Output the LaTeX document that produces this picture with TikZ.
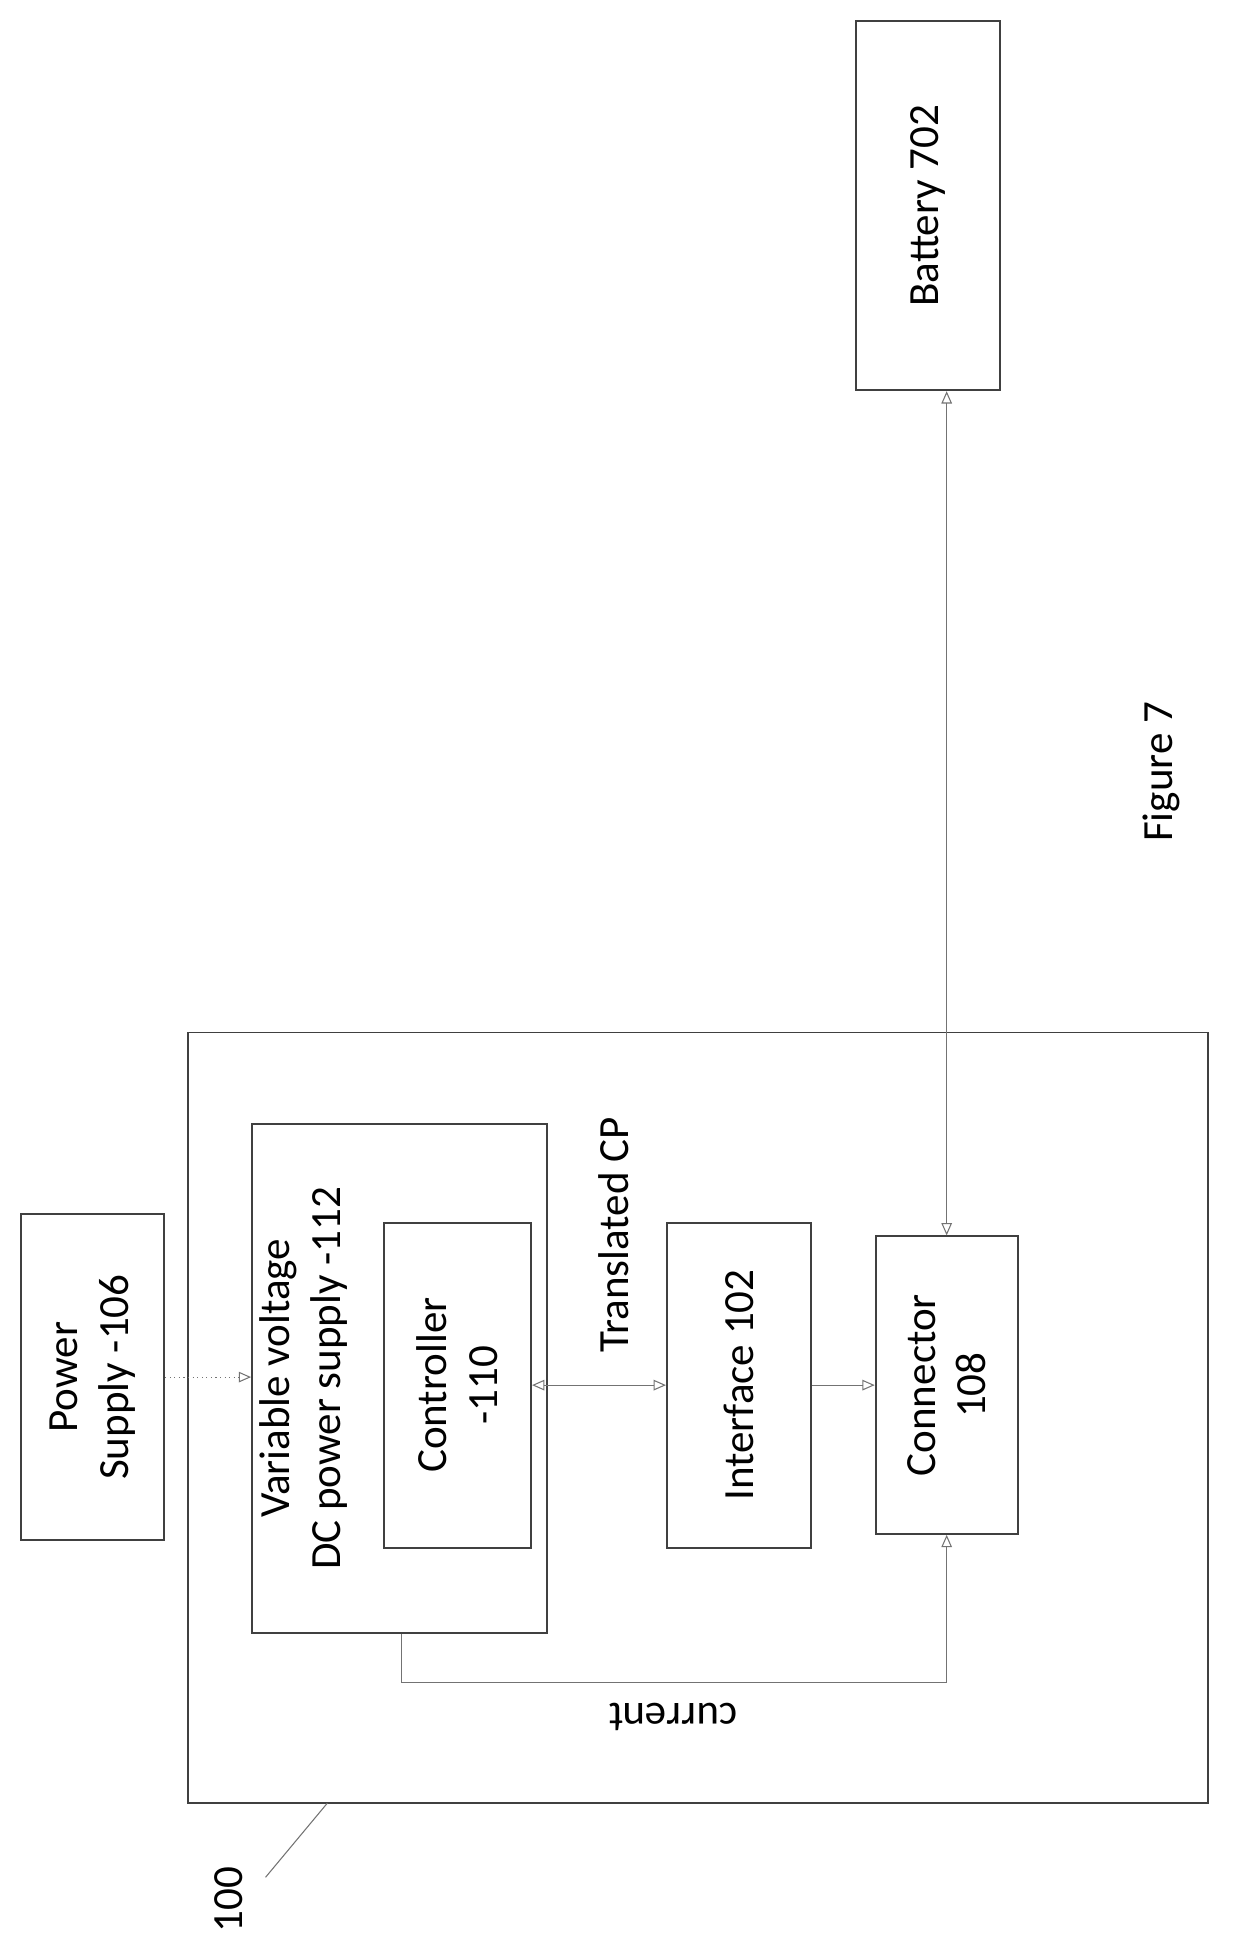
\documentclass[tikz,border=0pt]{standalone}
\usepackage{fontspec}
\setmainfont{Carlito}
\usetikzlibrary{arrows.meta}
\begin{document}
\begin{tikzpicture}[x=0.0247cm,y=-0.0247cm,
  box/.style={draw=black!75,line width=1.1pt,rotate=90,align=center,inner sep=0pt,font=\fontsize{24.5}{29}\selectfont},
  txt/.style={rotate=90,align=center,font=\fontsize{24.5}{29}\selectfont},
  utxt/.style={rotate=180,align=center,font=\fontsize{24.5}{29}\selectfont},
  conn/.style={draw=black!55,line width=0.6pt,-{Triangle[open,length=7pt,width=6pt]}},
  conn2/.style={conn,{Triangle[open,length=7pt,width=6pt]}-{Triangle[open,length=7pt,width=6pt]}}]
\useasboundingbox (0,0) rectangle (1000,1571.6);
\node[box,minimum width=7.385cm,minimum height=2.89cm] (bat) at (751.5,166.5) {Battery 702};
\draw[draw=black!75,line width=1.1pt] (152,836) rectangle (978,1460);
\coordinate (outer) at (265,1460);
\node[box,minimum width=6.52cm,minimum height=2.865cm] (ps) at (75,1115) {Power\\Supply -106};
\node[box,minimum width=10.18cm,minimum height=5.90cm] (vv) at (323.5,1116) {};
\node[txt] (vvl) at (246,1116) {Variable voltage\\DC power supply -112};
\node[box,minimum width=6.50cm,minimum height=2.94cm] (ctl) at (370.5,1121.5) {Controller\\-110};
\node[box,minimum width=6.50cm,minimum height=2.89cm] (ifc) at (598.5,1121.5) {Interface 102};
\node[box,minimum width=5.95cm,minimum height=2.84cm] (con) at (766.5,1121.5) {Connector\\108};
\node[txt] (tcp) at (497,1000) {Translated CP};
\node[utxt] (cur) at (545,1390) {current};
\node[txt] (fig) at (940,625) {Figure 7};
\node[txt] (lbl) at (185,1538) {100};
\draw[conn,dotted] (ps.south) -- (vv.north|-ps.south);
\draw[conn2] (ctl.south|-ifc) -- (ifc.north);
\draw[conn] (ifc.south) -- (con.north|-ifc);
\draw[conn2] (bat.west-|con.east) -- (con.east);
\coordinate (c1) at (325,1362);
\draw[conn] (vv.west-|c1) -- (c1) -- (c1-|con) -- (con.west);
\draw[draw=black!55,line width=0.6pt] (215,1520) -- (outer);
\end{tikzpicture}
\end{document}
